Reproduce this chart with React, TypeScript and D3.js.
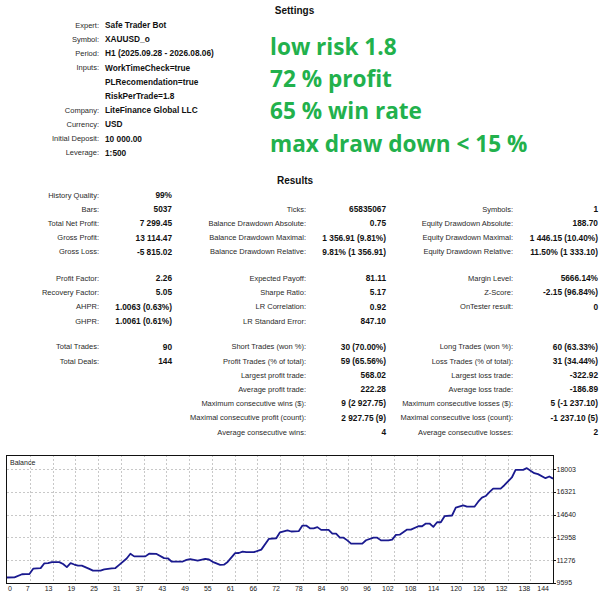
import React from 'react';
import * as d3 from 'd3';

const settingsLabels = ['Expert:', 'Symbol:', 'Period:', 'Inputs:', '', '', 'Company:', 'Currency:', 'Initial Deposit:', 'Leverage:'];
const settingsValues = ['Safe Trader Bot', 'XAUUSD_o', 'H1 (2025.09.28 - 2026.08.06)', 'WorkTimeCheck=true', 'PLRecomendation=true', 'RiskPerTrade=1.8', 'LiteFinance Global LLC', 'USD', '10 000.00', '1:500'];
const highlights = ['low risk 1.8', '72 % profit', '65 % win rate', 'max draw down < 15 %'];

const col1Labels = ['History Quality:', 'Bars:', 'Total Net Profit:', 'Gross Profit:', 'Gross Loss:', 'Profit Factor:', 'Recovery Factor:', 'AHPR:', 'GHPR:', 'Total Trades:', 'Total Deals:', '', '', '', '', ''];
const col1Values = ['99%', '5037', '7 299.45', '13 114.47', '-5 815.02', '2.26', '5.05', '1.0063 (0.63%)', '1.0061 (0.61%)', '90', '144', '', '', '', '', ''];
const col2Labels = ['', 'Ticks:', 'Balance Drawdown Absolute:', 'Balance Drawdown Maximal:', 'Balance Drawdown Relative:', 'Expected Payoff:', 'Sharpe Ratio:', 'LR Correlation:', 'LR Standard Error:', 'Short Trades (won %):', 'Profit Trades (% of total):', 'Largest profit trade:', 'Average profit trade:', 'Maximum consecutive wins ($):', 'Maximal consecutive profit (count):', 'Average consecutive wins:'];
const col2Values = ['', '65835067', '0.75', '1 356.91 (9.81%)', '9.81% (1 356.91)', '81.11', '5.17', '0.92', '847.10', '30 (70.00%)', '59 (65.56%)', '568.02', '222.28', '9 (2 927.75)', '2 927.75 (9)', '4'];
const col3Labels = ['', 'Symbols:', 'Equity Drawdown Absolute:', 'Equity Drawdown Maximal:', 'Equity Drawdown Relative:', 'Margin Level:', 'Z-Score:', 'OnTester result:', '', 'Long Trades (won %):', 'Loss Trades (% of total):', 'Largest loss trade:', 'Average loss trade:', 'Maximum consecutive losses ($):', 'Maximal consecutive loss (count):', 'Average consecutive losses:'];
const col3Values = ['', '1', '188.70', '1 446.15 (10.40%)', '11.50% (1 333.10)', '5666.14%', '-2.15 (96.84%)', '0', '', '60 (63.33%)', '31 (34.44%)', '-322.92', '-186.89', '5 (-1 237.10)', '-1 237.10 (5)', '2'];

const xTickLabels = ['0', '7', '13', '19', '25', '31', '37', '43', '49', '55', '61', '66', '72', '78', '84', '90', '96', '102', '108', '114', '120', '126', '132', '138', '144'];
const yTickValues = [9595, 11276, 12958, 14640, 16321, 18003];

const dealIndex = [0, 2, 4, 5, 6, 7, 9, 10, 11, 12, 14, 15, 16, 17, 18, 19, 20, 22, 23, 25, 26, 28, 29, 30, 32, 33, 34, 37, 38, 40, 42, 43, 44, 47, 48, 49, 51, 53, 54, 55, 57, 58, 59, 61, 62, 63, 64, 66, 68, 70, 72, 73, 75, 76, 78, 79, 80, 81, 82, 83, 84, 86, 87, 88, 89, 90, 91, 92, 95, 96, 98, 99, 100, 102, 103, 104, 105, 107, 108, 110, 111, 112, 113, 114, 115, 116, 117, 119, 120, 122, 123, 125, 126, 127, 128, 129, 130, 132, 133, 135, 136, 138, 139, 140, 141, 142, 144, 145, 146];
const balance = [10000, 10010, 10240, 10250, 10260, 10650, 10690, 11050, 11060, 11130, 11135, 11000, 10770, 11060, 10960, 10880, 10880, 10640, 10510, 10510, 10600, 10680, 10700, 10930, 11400, 11753, 11560, 11560, 11753, 11740, 11433, 11420, 11180, 11180, 11300, 11358, 11254, 11380, 11330, 11157, 10934, 10950, 11150, 11805, 11810, 11916, 11870, 11870, 12060, 12846, 12900, 13338, 13486, 13397, 13420, 13836, 13836, 13635, 13635, 13721, 13516, 13516, 13240, 13240, 12943, 12943, 12742, 12497, 12497, 12750, 12943, 12943, 12742, 12742, 12800, 13144, 13166, 13538, 13538, 13784, 13784, 13985, 13985, 13739, 14081, 14081, 14528, 14578, 15153, 15324, 15227, 15227, 15600, 15896, 16016, 16300, 16566, 16566, 16812, 17385, 17950, 17950, 18077, 17875, 17705, 17630, 17333, 17459, 17300];

const LABEL_FONT = "'Liberation Sans', Arial, sans-serif";
const GREEN = '#22b14c';

function resultRowY(i: number): number {
  if (i < 5) return 195 + i * 14.2;
  if (i < 9) return 278.3 + (i - 5) * 14.2;
  return 346.7 + (i - 9) * 14.2;
}

export default function App() {
  const W = 610, H = 600;
  const chart = { left: 7, right: 553, top: 455, bottom: 583 };

  const x = d3.scaleLinear().domain([0, 146]).range([chart.left, chart.right]);
  const y = d3.scaleLinear().domain([9595, 19045]).range([chart.bottom, chart.top]);
  const xGrid = d3.scalePoint<string>().domain(xTickLabels).range([chart.left, chart.right]);

  const pts: [number, number][] = dealIndex.map((d, i) => [d, balance[i]]);
  const line = d3.line<[number, number]>().x(d => x(d[0])).y(d => y(d[1]));

  const labelStyle = { fontFamily: LABEL_FONT, fontSize: 7.5, fill: '#2a2a2a' } as const;
  const valueStyle = { fontFamily: LABEL_FONT, fontSize: 8.3, fontWeight: 700, fill: '#111' } as const;
  const titleStyle = { fontFamily: LABEL_FONT, fontSize: 10, fontWeight: 700, fill: '#111' } as const;

  return (
    <svg width={W} height={H} style={{ position: 'absolute', left: 0, top: 0, background: '#fff' }}>
      <rect x={0} y={0} width={W} height={H} fill="#fff" />
      <text x={294.5} y={10} dy="0.35em" textAnchor="middle" style={titleStyle}>Settings</text>
      {settingsLabels.map((l, i) => (
        <g key={'s' + i}>
          {l && <text x={99} y={25 + i * 14.2} dy="0.35em" textAnchor="end" style={labelStyle}>{l}</text>}
          <text x={105} y={25 + i * 14.2} dy="0.35em" style={valueStyle}>{settingsValues[i]}</text>
        </g>
      ))}
      {highlights.map((t, i) => (
        <text key={'h' + i} x={270} y={55 + i * 32.2} style={{ fontFamily: "'Open Sans', sans-serif", fontSize: 22.6, fontWeight: 700, fill: GREEN }}>{t}</text>
      ))}
      <text x={295} y={180} dy="0.35em" textAnchor="middle" style={titleStyle}>Results</text>
      {col1Labels.map((_, i) => {
        const yy = resultRowY(i);
        return (
          <g key={'r' + i}>
            {col1Labels[i] && <text x={99} y={yy} dy="0.35em" textAnchor="end" style={labelStyle}>{col1Labels[i]}</text>}
            {col1Values[i] && <text x={172} y={yy} dy="0.35em" textAnchor="end" style={valueStyle}>{col1Values[i]}</text>}
            {col2Labels[i] && <text x={306} y={yy} dy="0.35em" textAnchor="end" style={labelStyle}>{col2Labels[i]}</text>}
            {col2Values[i] && <text x={386} y={yy} dy="0.35em" textAnchor="end" style={valueStyle}>{col2Values[i]}</text>}
            {col3Labels[i] && <text x={513} y={yy} dy="0.35em" textAnchor="end" style={labelStyle}>{col3Labels[i]}</text>}
            {col3Values[i] && <text x={598} y={yy} dy="0.35em" textAnchor="end" style={valueStyle}>{col3Values[i]}</text>}
          </g>
        );
      })}

      {/* balance chart */}
      <g>
        {xTickLabels.slice(1, -1).map(t => (
          <line key={'gx' + t} x1={Math.round(xGrid(t)!) + 0.5} x2={Math.round(xGrid(t)!) + 0.5} y1={chart.top} y2={chart.bottom} stroke="#c8c8c8" strokeDasharray="2,2" strokeWidth={1} />
        ))}
        {yTickValues.slice(1).map(v => (
          <line key={'gy' + v} x1={chart.left} x2={chart.right} y1={Math.round(y(v)) + 0.5} y2={Math.round(y(v)) + 0.5} stroke="#c8c8c8" strokeDasharray="2,2" strokeWidth={1} />
        ))}
        <path d={line(pts) || ''} fill="none" stroke="#1a1a8f" strokeWidth={1.8} strokeLinejoin="round" />
        <rect x={chart.left - 0.5} y={chart.top + 0.5} width={chart.right - chart.left + 1} height={chart.bottom - chart.top} fill="none" stroke="#111" strokeWidth={1} />
        <text x={10} y={462.7} dy="0.35em" style={{ fontFamily: LABEL_FONT, fontSize: 7, fill: '#222' }}>Balance</text>
        {yTickValues.map(v => (
          <g key={'ty' + v}>
            <line x1={chart.right} x2={chart.right + 3} y1={Math.round(y(v)) + 0.5} y2={Math.round(y(v)) + 0.5} stroke="#111" />
            <text x={556.5} y={y(v)} dy="0.35em" style={{ fontFamily: LABEL_FONT, fontSize: 7, fill: '#222' }}>{v}</text>
          </g>
        ))}
        {xTickLabels.map((t, i) => {
          const gx = xGrid(t)!;
          const first = i === 0;
          const last = i === xTickLabels.length - 1;
          return (
            <text key={'tx' + t} x={first ? 8 : last ? 549 : gx} y={588.5} dy="0.35em" textAnchor={first ? 'start' : 'end'} style={{ fontFamily: LABEL_FONT, fontSize: 7, fill: '#222' }}>{t}</text>
          );
        })}
      </g>
    </svg>
  );
}
